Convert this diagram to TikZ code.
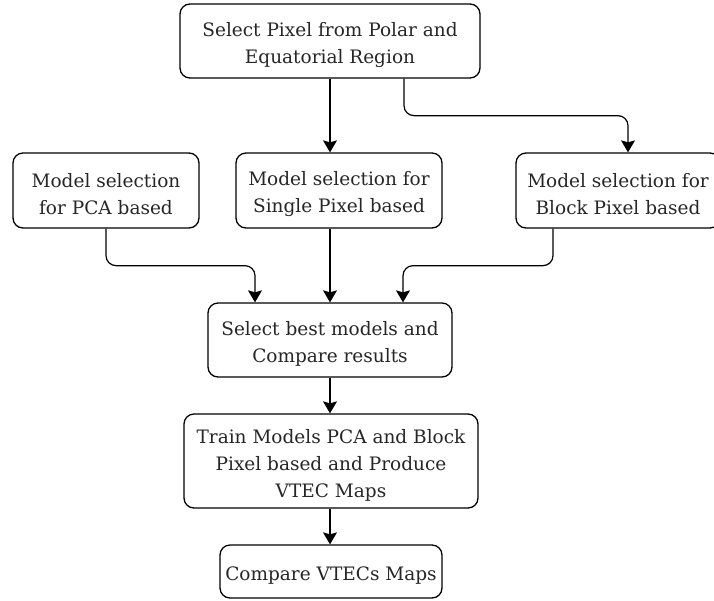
\documentclass[tikz,border=0pt]{standalone}
\usepackage{fontspec}
\setmainfont{DejaVu Serif}
\usetikzlibrary{arrows.meta}
\newcommand{\topstrutx}{\vrule width 0pt height 22pt\relax}
\begin{document}
\begin{tikzpicture}[x=1pt,y=-1pt,
  box/.style={draw, line width=1.3pt, rounded corners=10pt, align=center, inner sep=2pt,
    text=black!85, font=\fontsize{18.5}{27}\selectfont},
  arr/.style={draw, line width=1.2pt, rounded corners=10pt, -{Stealth[length=12pt,width=14pt,inset=2pt]}}]
\useasboundingbox (0,0) rectangle (714,600);
\begin{scope}
\clip (0,0) rectangle (714,600);
\node[box, minimum width=300pt, minimum height=74pt] (top) at (330,41) {\topstrutx Select Pixel from Polar and\\Equatorial Region};
\node[box, minimum width=186pt, minimum height=75pt] (pca) at (106,190.5) {\topstrutx Model selection\\for PCA based};
\node[box, minimum width=206pt, minimum height=75pt] (single) at (339,190.5) {\topstrutx Model selection for\\Single Pixel based};
\node[box, minimum width=204pt, minimum height=75pt] (block) at (618,190.5) {\topstrutx Model selection for\\Block Pixel based};
\node[box, minimum width=244pt, minimum height=74pt] (select) at (330,340) {\topstrutx Select best models and\\Compare results};
\node[box, minimum width=294pt, minimum height=94pt] (train) at (331,461) {\topstrutx Train Models PCA and Block\\Pixel based and Produce\\VTEC Maps};
\node[box, minimum width=222pt, minimum height=53pt] (compare) at (331,571.5) {\topstrutx Compare VTECs Maps};
\end{scope}
\draw[arr] (top.south) -- (top.south |- single.north);
\draw[arr] ([xshift=74pt]top.south) -- ++(0,37) -| ([xshift=10pt]block.north);
\draw[arr] (pca.south) -- ++(0,37) -| ([xshift=-75pt]select.north);
\draw[arr] (select.north |- single.south) -- (select.north);
\draw[arr] ([xshift=-65pt]block.south) -- ++(0,37) -| ([xshift=73pt]select.north);
\draw[arr] (select.south) -- (select.south |- train.north);
\draw[arr] (select.south |- train.south) -- (select.south |- compare.north);
\end{tikzpicture}
\end{document}
